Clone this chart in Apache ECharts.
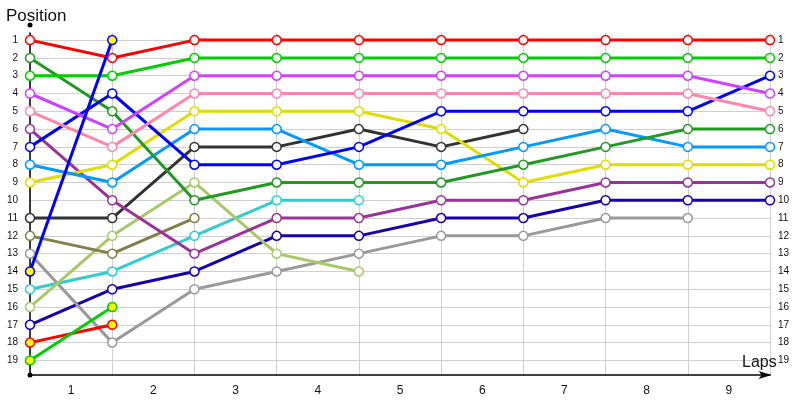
<!DOCTYPE html>
<html>
<head>
<meta charset="utf-8">
<script src="https://cdn.jsdelivr.net/npm/echarts@6/dist/echarts.min.js"></script>
<style>html,body{margin:0;padding:0;background:#fff}#c{width:800px;height:400px}</style>
</head>
<body>
<div id="c"></div>
<script>
// Lap labels (shown between grid lines) and position ticks
const lapLabels = ['1','2','3','4','5','6','7','8','9'];
const positionTicks = [1,2,3,4,5,6,7,8,9,10,11,12,13,14,15,16,17,18,19];

// Positions at each grid line (0..9); null = no longer running
const red        = [1, 2, 1, 1, 1, 1, 1, 1, 1, 1];
const green      = [3, 3, 2, 2, 2, 2, 2, 2, 2, 2];
const violet     = [4, 6, 3, 3, 3, 3, 3, 3, 3, 4];
const pink       = [5, 7, 4, 4, 4, 4, 4, 4, 4, 5];
const blue       = [7, 4, 8, 8, 7, 5, 5, 5, 5, 3];
const darkGreen  = [2, 5, 10, 9, 9, 9, 8, 7, 6, 6];
const skyBlue    = [8, 9, 6, 6, 8, 8, 7, 6, 7, 7];
const yellow     = [9, 8, 5, 5, 5, 6, 9, 8, 8, 8];
const purple     = [6, 10, 13, 11, 11, 10, 10, 9, 9, 9];
const darkGray   = [11, 11, 7, 7, 6, 7, 6, null, null, null];
const olive      = [12, 13, 11, null, null, null, null, null, null, null];
const gray       = [13, 18, 15, 14, 13, 12, 12, 11, 11, null];
const cyan       = [15, 14, 12, 10, 10, null, null, null, null, null];
const lightOlive = [16, 12, 9, 13, 14, null, null, null, null, null];
const navy       = [17, 15, 14, 12, 12, 11, 11, 10, 10, 10];
const blueShort  = [14, 1];
const redShort   = [18, 17];
const greenShort = [19, 16];

const seriesDefs = [
  {name:'Navy', data:navy, color:'#1500b0'},
  {name:'Gray', data:gray, color:'#999999'},
  {name:'Cyan', data:cyan, color:'#33cccc'},
  {name:'LightOlive', data:lightOlive, color:'#a8c868'},
  {name:'Olive', data:olive, color:'#80804a'},
  {name:'DarkGray', data:darkGray, color:'#333333'},
  {name:'Purple', data:purple, color:'#993399'},
  {name:'Yellow', data:yellow, color:'#dddd00'},
  {name:'SkyBlue', data:skyBlue, color:'#0099ff'},
  {name:'DarkGreen', data:darkGreen, color:'#229922'},
  {name:'Blue', data:blue, color:'#0000ff'},
  {name:'Pink', data:pink, color:'#ff88aa'},
  {name:'Violet', data:violet, color:'#cc44ff'},
  {name:'Green', data:green, color:'#00cc00'},
  {name:'Red', data:red, color:'#ff0000'},
  {name:'RedShort', data:redShort, color:'#ff0000', fill:'#ffff00'},
  {name:'GreenShort', data:greenShort, color:'#00cc00', fill:'#ffff00'},
  {name:'BlueShort', data:blueShort, color:'#0000ff', fill:'#ffff00'}
];

const chart = echarts.init(document.getElementById('c'), null, {renderer:'canvas'});
const labelFont = 'Liberation Sans';

const series = seriesDefs.map(d => ({
  name: d.name,
  type: 'line',
  xAxisIndex: 0,
  yAxisIndex: 0,
  data: d.data.map((v, i) => [i, v]),
  connectNulls: false,
  symbol: 'circle',
  symbolSize: 9,
  showAllSymbol: true,
  lineStyle: {color: d.color, width: 3},
  itemStyle: {color: d.fill || '#ffffff', borderColor: d.color, borderWidth: 1.5},
  emphasis: {disabled: true},
  animation: false
}));

const option = {
  animation: false,
  backgroundColor: '#ffffff',
  title: [
    {
      text: 'Position', left: 1, top: 3,
      textStyle: {fontFamily: labelFont, fontSize: 17, fontWeight: 'normal', color: '#111'}
    },
    {
      text: 'Laps', left: 742, top: 355, padding: 0,
      textStyle: {fontFamily: labelFont, fontSize: 16, fontWeight: 'normal', color: '#111'}
    }
  ],
  grid: {left: 30, right: 30, top: 33, bottom: 25, containLabel: false, outerBoundsMode: 'none'},
  xAxis: [
    {
      type: 'value', min: 0, max: 9, interval: 1,
      axisLine: {show: true, lineStyle: {color: '#000', width: 1.5}, symbol: ['none','arrow'], symbolSize: [6, 13], symbolOffset: [0, 1.5]},
      axisTick: {show: false},
      axisLabel: {show: false},
      splitLine: {show: true, lineStyle: {color: '#cfcfcf', width: 1}}
    },
    {
      type: 'category', data: lapLabels, boundaryGap: true, position: 'bottom',
      axisLine: {show: false}, axisTick: {show: false}, splitLine: {show: false},
      axisLabel: {fontFamily: labelFont, fontSize: 12, color: '#111', margin: 10}
    }
  ],
  yAxis: [
    {
      type: 'value', inverse: true, min: 0.6, max: 19.82,
      axisLine: {show: true, lineStyle: {color: '#000', width: 1.5}, symbol: ['circle','circle'], symbolSize: [5, 5], symbolOffset: [0, 8]},
      axisTick: {show: false, customValues: positionTicks},
      axisLabel: {customValues: positionTicks, fontFamily: labelFont, fontSize: 10, color: '#111', margin: 12},
      splitLine: {show: true, lineStyle: {color: '#cfcfcf', width: 1}}
    },
    {
      type: 'value', inverse: true, min: 0.6, max: 19.82, position: 'right',
      axisLine: {show: false}, axisTick: {show: false, customValues: positionTicks},
      axisLabel: {customValues: positionTicks, fontFamily: labelFont, fontSize: 10, color: '#111', margin: 8},
      splitLine: {show: false}
    }
  ],
  series: series
};
chart.setOption(option);
</script>
</body>
</html>
